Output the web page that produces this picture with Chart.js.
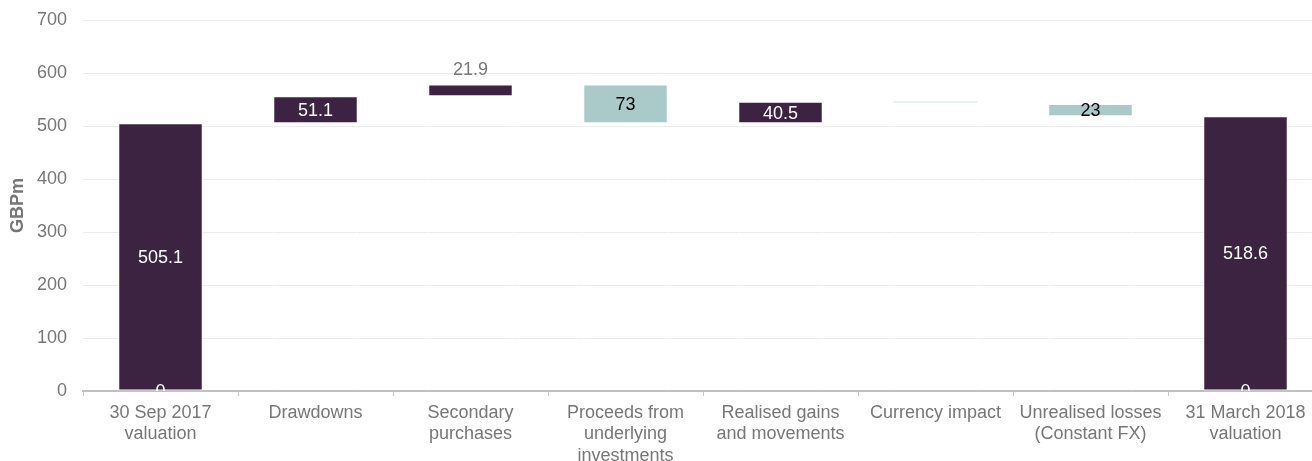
<!DOCTYPE html>
<html>
<head>
<meta charset="utf-8">
<script src="https://cdn.jsdelivr.net/npm/chart.js@4/dist/chart.umd.min.js"></script>
<style>
  html, body { margin: 0; padding: 0; background: #ffffff; overflow: hidden; }
  #wrap { width: 1324px; height: 461px; }
</style>
</head>
<body>
<div id="wrap"><canvas id="c" width="1324" height="461"></canvas></div>
<script>
const categories = [
  ['30 Sep 2017', 'valuation'],
  ['Drawdowns'],
  ['Secondary', 'purchases'],
  ['Proceeds from', 'underlying', 'investments'],
  ['Realised gains', 'and movements'],
  ['Currency impact'],
  ['Unrealised losses', '(Constant FX)'],
  ['31 March 2018', 'valuation']
];
const barStart = [0, 505.1, 556.2, 578.1, 505.1, 545.6, 541.6, 0];
const barEnd   = [505.1, 556.2, 578.1, 505.1, 545.6, 544.8, 518.6, 518.6];
const barKind  = ['total', 'up', 'up', 'down', 'up', 'down', 'down', 'total'];
const yTicks   = [0, 100, 200, 300, 400, 500, 600, 700];

const DARK = '#3c2342';
const TEAL = '#a9cac9';
const GREY = '#777777';
const FONT = "'Liberation Sans', Arial, sans-serif";

const lows  = barStart.map((s, i) => Math.min(s, barEnd[i]));
const highs = barStart.map((s, i) => Math.max(s, barEnd[i]));

const labelPlugin = {
  id: 'wfLabels',
  afterDatasetsDraw(chart) {
    const ctx = chart.ctx;
    const meta = chart.getDatasetMeta(1);
    const area = chart.chartArea;
    const yScale = chart.scales.y;
    ctx.save();
    ctx.beginPath();
    ctx.rect(area.left, area.top, area.right - area.left, area.bottom - area.top);
    ctx.clip();
    ctx.font = '18px ' + FONT;
    ctx.textAlign = 'center';
    ctx.textBaseline = 'middle';
    meta.data.forEach((el, i) => {
      const val = Math.round(Math.abs(barEnd[i] - barStart[i]) * 10) / 10;
      const top = Math.min(el.y, el.base);
      const bot = Math.max(el.y, el.base);
      const h = bot - top;
      const txt = String(val);
      const kind = barKind[i];
      if (h < 2) return;
      if (h < 14) {
        if (kind === 'down') {
          ctx.fillStyle = '#000000';
          ctx.fillText(txt, el.x, (top + bot) / 2 + 0.5);
        } else {
          ctx.fillStyle = GREY;
          ctx.fillText(txt, el.x, top - 15);
        }
      } else {
        ctx.fillStyle = kind === 'down' ? '#000000' : '#ffffff';
        ctx.fillText(txt, el.x, (top + bot) / 2 + 1);
      }
      if (kind === 'total') {
        ctx.fillStyle = '#ffffff';
        ctx.fillText(String(Math.min(barStart[i], barEnd[i])), el.x, yScale.getPixelForValue(0) + 1);
      }
    });
    ctx.restore();
  }
};

new Chart(document.getElementById('c'), {
  type: 'bar',
  data: {
    labels: categories,
    datasets: [
      {
        data: lows.map(l => [0, l]),
        backgroundColor: 'rgba(0,0,0,0)',
        borderColor: '#ffffff',
        borderWidth: { left: 1, right: 1, top: 0, bottom: 0 },
        borderSkipped: false
      },
      {
        data: lows.map((l, i) => [l, highs[i]]),
        backgroundColor: barKind.map(k => k === 'down' ? TEAL : DARK),
        borderColor: 'rgba(255,255,255,0.7)',
        borderWidth: lows.map((l, i) => (highs[i] - l) < 2 ? 0 : 1),
        borderSkipped: false
      }
    ]
  },
  options: {
    responsive: false,
    animation: false,
    layout: { padding: { top: 20, left: 0, right: 1, bottom: 0 } },
    datasets: { bar: { grouped: false, categoryPercentage: 1, barPercentage: 0.545 } },
    plugins: { legend: { display: false }, tooltip: { enabled: false } },
    scales: {
      x: {
        offset: true,
        grid: { display: true, drawOnChartArea: false, drawTicks: true, tickLength: 5, color: '#c8c8c8', offset: true },
        border: { display: true, color: '#c0c0c0', width: 2 },
        ticks: { color: GREY, font: { family: FONT, size: 18 }, padding: 6, maxRotation: 0, autoSkip: false },
        afterFit(s) { s.height = 70; s.paddingTop = 0; s.paddingBottom = 0; }
      },
      y: {
        min: 0,
        max: 700,
        afterBuildTicks(s) { s.ticks = yTicks.map(v => ({ value: v })); },
        grid: { color: '#ececec', lineWidth: 1, drawTicks: false },
        border: { display: false },
        ticks: { color: GREY, font: { family: FONT, size: 18 }, padding: 16 },
        title: { display: true, text: 'GBPm', color: GREY, font: { family: FONT, size: 18, weight: 'bold' }, padding: { top: 7, bottom: 0 } },
        afterFit(s) { s.width = 83; s.paddingTop = 0; s.paddingBottom = 0; }
      }
    }
  },
  plugins: [labelPlugin]
});
</script>
</body>
</html>
